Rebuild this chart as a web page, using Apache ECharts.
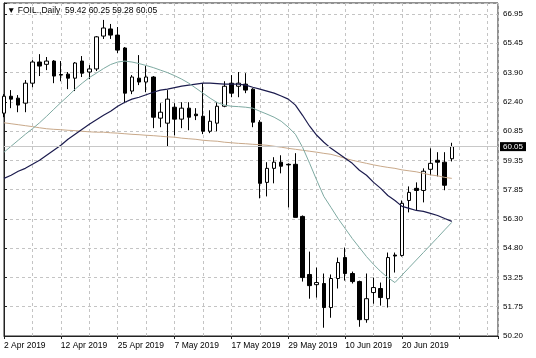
<!DOCTYPE html>
<html>
<head>
<meta charset="utf-8">
<script src="https://cdn.jsdelivr.net/npm/echarts@6/dist/echarts.min.js"></script>
<style>
  html, body { margin: 0; padding: 0; background: #fff; }
  #main { width: 536px; height: 358px; }
</style>
</head>
<body>
<div id="main"></div>
<script>
var symbolName = 'FOIL.,Daily';

var dates = ['2 Apr 2019','3 Apr 2019','4 Apr 2019','5 Apr 2019','8 Apr 2019','9 Apr 2019','10 Apr 2019','11 Apr 2019',
  '12 Apr 2019','15 Apr 2019','16 Apr 2019','17 Apr 2019','18 Apr 2019','22 Apr 2019','23 Apr 2019','24 Apr 2019',
  '25 Apr 2019','26 Apr 2019','29 Apr 2019','30 Apr 2019','1 May 2019','2 May 2019','3 May 2019','6 May 2019',
  '7 May 2019','8 May 2019','9 May 2019','10 May 2019','13 May 2019','14 May 2019','15 May 2019','16 May 2019',
  '17 May 2019','20 May 2019','21 May 2019','22 May 2019','23 May 2019','24 May 2019','27 May 2019','28 May 2019',
  '29 May 2019','30 May 2019','31 May 2019','3 Jun 2019','4 Jun 2019','5 Jun 2019','6 Jun 2019','7 Jun 2019',
  '10 Jun 2019','11 Jun 2019','12 Jun 2019','13 Jun 2019','14 Jun 2019','17 Jun 2019','18 Jun 2019','19 Jun 2019',
  '20 Jun 2019','21 Jun 2019','24 Jun 2019','25 Jun 2019','26 Jun 2019','27 Jun 2019','28 Jun 2019','1 Jul 2019'];

var opens = [61.79,62.67,62.57,62.31,63.35,64.45,64.33,64.50,63.80,63.82,63.61,64.50,63.93,64.09,65.80,66.17,
  65.85,65.18,62.94,63.61,63.41,63.67,61.53,61.27,62.10,61.48,62.05,61.74,61.63,60.85,61.27,62.15,
  63.35,63.19,63.30,63.04,61.32,58.19,58.92,59.24,59.13,59.13,56.42,53.40,52.87,52.93,51.68,53.19,
  54.28,53.45,53.03,51.05,52.46,52.67,52.14,54.41,54.39,57.25,57.88,57.77,58.87,59.34,59.24,59.42];
var closes = [62.67,62.52,62.21,63.35,64.45,64.24,64.50,63.72,63.77,63.61,64.40,63.87,64.09,65.76,66.22,65.85,
  65.07,62.83,63.67,63.41,63.67,61.58,61.84,62.52,61.48,62.05,61.58,61.66,60.85,61.37,62.15,63.19,
  62.83,63.35,62.99,61.32,58.14,58.92,59.24,59.03,59.10,56.37,53.24,52.82,52.98,51.68,53.19,54.02,
  53.45,53.03,51.05,52.14,52.72,52.20,54.28,54.36,57.10,57.67,57.77,58.77,59.18,59.24,58.04,60.05];
var lows = [61.58,62.05,61.84,61.84,63.14,63.72,64.03,63.35,63.45,63.04,62.94,63.67,63.56,63.98,65.65,65.65,
  64.92,62.31,62.78,63.25,62.88,61.01,61.06,60.07,60.64,61.01,60.90,61.43,60.70,60.75,60.85,62.10,
  62.62,62.62,62.83,61.06,57.36,57.46,58.14,58.66,56.89,56.37,53.03,52.14,52.20,50.63,51.15,52.67,
  53.08,52.93,50.68,50.89,51.88,51.78,51.68,53.50,54.33,56.63,56.73,57.15,58.56,58.50,57.78,59.28];
var highs = [62.78,62.99,62.73,63.51,64.55,64.86,64.71,64.55,64.50,63.93,64.45,64.76,64.29,65.80,66.64,66.43,
  66.27,65.23,63.77,64.81,64.24,63.72,62.31,62.99,62.31,62.36,62.36,62.05,63.35,61.94,62.36,63.45,
  63.77,63.93,63.87,63.09,61.43,59.24,59.50,59.60,59.18,59.71,56.47,54.59,53.76,53.45,53.40,54.28,
  54.80,53.55,53.08,53.45,53.24,52.98,54.54,54.54,57.25,57.98,58.19,58.92,59.96,59.76,59.76,60.25];

// moving averages
var maFast = [59.76,60.07,60.38,60.69,60.98,61.29,61.63,61.99,62.34,62.68,63.04,63.35,63.64,63.87,64.11,64.32,
  64.45,64.50,64.45,64.37,64.27,64.16,64.03,63.90,63.74,63.56,63.35,63.09,62.83,62.57,62.34,62.21,
  62.15,62.13,62.10,62.05,61.89,61.74,61.58,61.37,61.06,60.69,60.02,59.18,58.30,57.46,56.89,56.31,
  55.79,55.27,54.80,54.33,53.92,53.55,53.24,52.98,53.37,53.76,54.15,54.54,54.93,55.32,55.72,56.11];
var maMid = [58.40,58.56,58.77,58.92,59.13,59.34,59.60,59.86,60.12,60.43,60.69,60.95,61.21,61.45,61.68,61.89,
  62.15,62.36,62.52,62.62,62.75,62.88,62.99,63.04,63.12,63.20,63.25,63.30,63.35,63.35,63.33,63.30,
  63.30,63.30,63.25,63.14,63.04,62.94,62.83,62.68,62.52,62.21,61.68,61.11,60.64,60.28,59.96,59.70,
  59.44,59.18,58.82,58.56,58.19,57.88,57.51,57.25,56.94,56.84,56.73,56.68,56.58,56.47,56.31,56.16];
var maSlow = [61.29,61.24,61.19,61.14,61.09,61.03,60.98,60.95,60.93,60.90,60.88,60.85,60.82,60.80,60.80,60.77,
  60.75,60.72,60.69,60.67,60.64,60.62,60.59,60.56,60.54,60.49,60.46,60.43,60.38,60.35,60.33,60.28,
  60.25,60.22,60.20,60.17,60.15,60.12,60.07,60.02,59.96,59.91,59.86,59.81,59.76,59.70,59.65,59.55,
  59.44,59.34,59.26,59.18,59.10,59.03,58.97,58.92,58.84,58.79,58.74,58.66,58.58,58.53,58.45,58.40];

var yTickLabels = ['50.20','51.75','53.25','54.80','56.30','57.85','59.35','60.85','62.40','63.90','65.45','66.95'];
var yMin = 50.20, yTop = 66.95, yMax = 67.52;
var yStep = (yTop - yMin) / (yTickLabels.length - 1);

var font = 'Liberation Sans';
var last = opens.length - 1;
var lastClose = closes[last];

var candleData = opens.map(function (o, i) { return [i, o, closes[i], lows[i], highs[i]]; });
function withIndex(arr) { return arr.map(function (v, i) { return [i, v]; }); }

var chart = echarts.init(document.getElementById('main'));
var option = {
    backgroundColor: '#fff',
    animation: false,
    title: {
        text: '\u25BC ' + symbolName + '  ' + [opens[last], highs[last], lows[last], closes[last]].map(function (v) { return v.toFixed(2); }).join(' '),
        left: 7,
        top: 6,
        padding: 0,
        textStyle: { fontSize: 8.5, fontWeight: 'normal', fontFamily: font, color: '#000' }
    },
    grid: {
        left: 4, right: 38, top: 3, bottom: 22,
        show: true, borderColor: '#222', borderWidth: 1
    },
    xAxis: {
        type: 'value',
        min: 0,
        max: 69.5,
        interval: 8,
        axisLine: { lineStyle: { color: '#222' } },
        axisTick: { length: 3, lineStyle: { color: '#222' } },
        axisLabel: {
            fontSize: 8.5, fontFamily: font, color: '#000', align: 'left', margin: 5,
            formatter: function (v) { return (Number.isInteger(v) && dates[v]) ? dates[v] : ''; }
        },
        splitLine: { show: true, lineStyle: { color: '#c4c4c4', type: [3, 3] } },
        minorTick: { show: false, splitNumber: 2 },
        minorSplitLine: { show: true, lineStyle: { color: '#c4c4c4', type: [3, 3] } }
    },
    yAxis: {
        type: 'value',
        position: 'right',
        min: yMin,
        max: yMax,
        interval: yStep,
        axisLine: { show: true, lineStyle: { color: '#222' } },
        axisTick: { show: true, length: 3, lineStyle: { color: '#222' } },
        axisLabel: {
            fontSize: 8, fontFamily: font, color: '#000', margin: 5,
            formatter: function (v) {
                var k = (v - yMin) / yStep;
                var r = Math.round(k);
                return Math.abs(k - r) < 0.01 && yTickLabels[r] ? yTickLabels[r] : '';
            }
        },
        splitLine: { show: true, lineStyle: { color: '#c4c4c4', type: [3, 3] } }
    },
    series: [
        {
            type: 'candlestick',
            data: candleData,
            encode: { x: 0, y: [1, 2, 3, 4] },
            barWidth: 4,
            itemStyle: { color: '#fff', color0: '#000', borderColor: '#000', borderColor0: '#000', borderWidth: 1 },
            markLine: {
                silent: true,
                symbol: ['none', 'none'],
                data: [{ yAxis: lastClose }],
                lineStyle: { color: '#c8c8c8', type: 'solid', width: 1 },
                label: {
                    position: 'end', distance: 2,
                    formatter: lastClose.toFixed(2),
                    backgroundColor: '#000', color: '#fff',
                    fontSize: 8, fontFamily: font, padding: [1, 3, 0, 3]
                },
                emphasis: { disabled: true }
            }
        },
        {
            type: 'line', data: withIndex(maSlow), showSymbol: false, z: 3,
            lineStyle: { color: '#c9a98a', width: 1 }
        },
        {
            type: 'line', data: withIndex(maMid), showSymbol: false, z: 3,
            lineStyle: { color: '#1c1c4e', width: 1.2 }
        },
        {
            type: 'line', data: withIndex(maFast), showSymbol: false, z: 3,
            lineStyle: { color: '#7eaaa2', width: 1 }
        }
    ]
};
chart.setOption(option);
</script>
</body>
</html>
